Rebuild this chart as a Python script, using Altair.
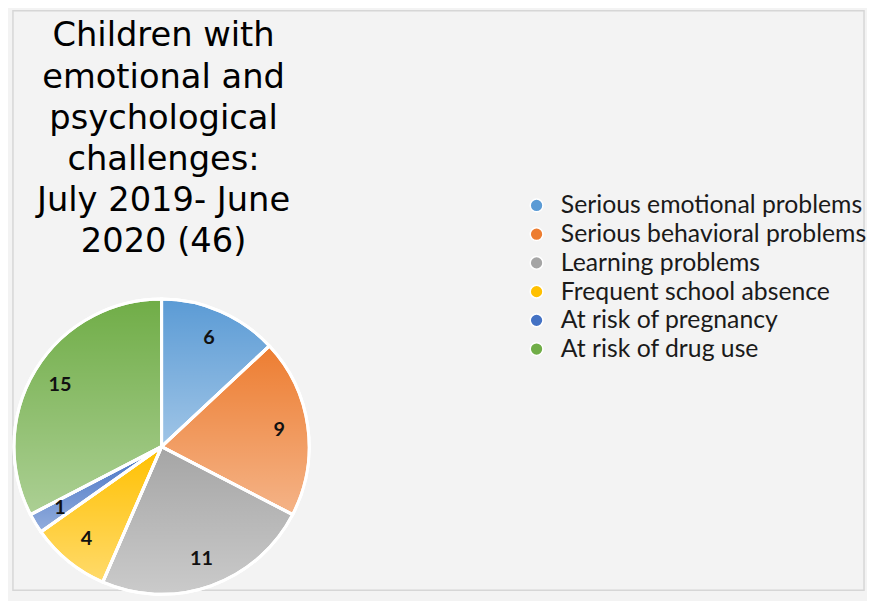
import altair as alt
import pandas as pd

categories = ["Serious emotional problems", "Serious behavioral problems", "Learning problems",
              "Frequent school absence", "At risk of pregnancy", "At risk of drug use"]
values = [6, 9, 11, 4, 1, 15]
colors = ["#5B9BD5", "#ED7D31", "#A5A5A5", "#FFC000", "#4472C4", "#70AD47"]
title_lines = ["Children with", "emotional and", "psychological", "challenges:",
               "July 2019- June", "2020 (46)"]

df = pd.DataFrame({"category": categories, "value": values, "idx": list(range(len(values)))})
tdf = pd.DataFrame({"t": ["\n".join(title_lines)]})

CX, CY, R = 150, 440, 149

theta = alt.Theta("value:Q", stack=True)
order = alt.Order("idx:Q", sort="ascending")

base = alt.Chart(df)

pie = base.mark_arc(radius=R, stroke="white", strokeWidth=3).encode(
    theta=theta,
    order=order,
    x=alt.value(CX), y=alt.value(CY),
    color=alt.Color("category:N",
                    scale=alt.Scale(domain=categories, range=colors),
                    legend=alt.Legend(orient="none", legendX=516, legendY=184, title=None,
                                      symbolType="circle", symbolSize=165,
                                      symbolStrokeColor="white", symbolStrokeWidth=1.5,
                                      labelFont="Lato", labelFontSize=25, labelColor="#1a1a1a",
                                      rowPadding=3.0, labelOffset=12, labelLimit=500)),
)

shade = base.mark_arc(
    radius=R, stroke="white", strokeWidth=3,
    fill={"gradient": "linear", "x1": 0, "y1": 0, "x2": 0, "y2": 1,
          "stops": [{"offset": 0, "color": "rgba(255,255,255,0)"},
                    {"offset": 1, "color": "rgba(255,255,255,0.42)"}]},
).encode(theta=theta, order=order, x=alt.value(CX), y=alt.value(CY))

labels = base.mark_text(radius=120, font="Lato", fontWeight="bold", fontSize=20,
                        color="#111111", align="center", baseline="middle").encode(
    theta=theta, order=order, x=alt.value(CX), y=alt.value(CY), text="value:Q")

title = alt.Chart(tdf).mark_text(font="DejaVu Sans", fontSize=34, lineHeight=41.6,
                                 lineBreak="\n", align="center", baseline="alphabetic",
                                 color="#000000").encode(
    x=alt.value(152), y=alt.value(36), text="t:N")

chart = alt.layer(pie, shade, labels, title).properties(
    width=859, height=585, padding=0, background="#f3f3f3"
).configure_view(stroke="#d6d6d6", strokeWidth=1.5)

chart.save("out.html", embed_options={"renderer": "svg", "actions": False})
